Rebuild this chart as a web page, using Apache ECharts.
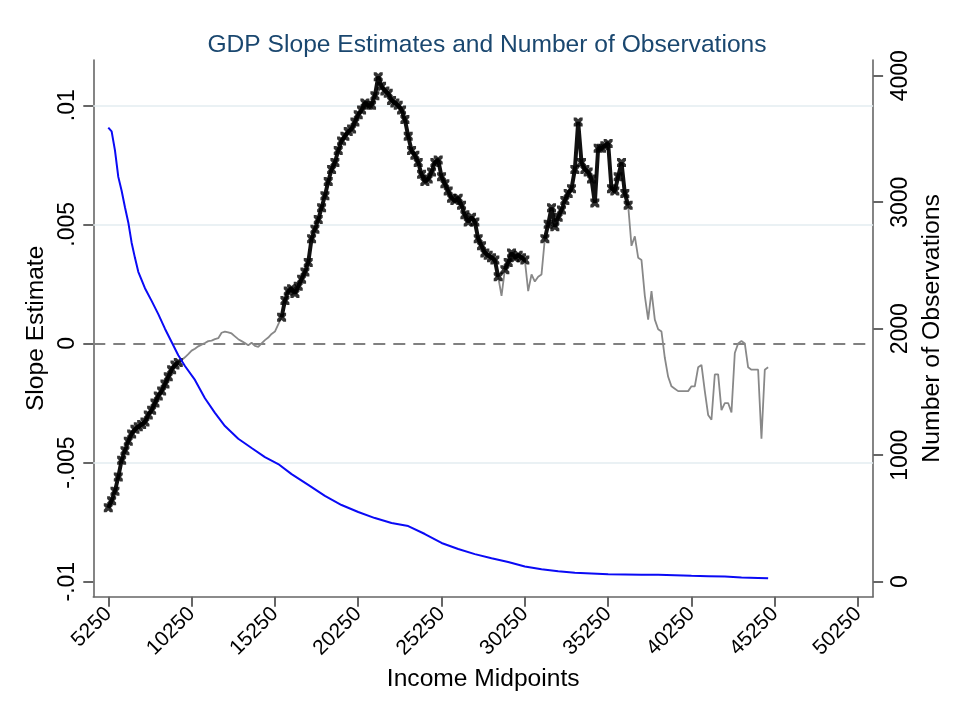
<!DOCTYPE html>
<html>
<head>
<meta charset="utf-8">
<title>GDP Slope Estimates and Number of Observations</title>
<script src="https://cdn.jsdelivr.net/npm/echarts@6/dist/echarts.min.js"></script>
<style>
  html, body { margin: 0; padding: 0; background: #ffffff; }
  #chart { width: 953px; height: 703px; }
</style>
</head>
<body>
<div id="chart"></div>
<script>
// Income midpoints run from 5250 in steps of 200
const incomeStart = 5250;
const incomeStep = 200;

// Slope estimate at each income midpoint
const slopeEstimates = [
  -0.0069, -0.0066, -0.0062, -0.0056, -0.0049, -0.0045, -0.0041, -0.0038, -0.0036, -0.0035,
  -0.0034, -0.0033, -0.0030, -0.0028, -0.0025, -0.0022, -0.0020, -0.0017, -0.0014, -0.0011,
  -0.0009, -0.0008, -0.0007, -0.00058, -0.00045, -0.0003, -0.00022, -0.00012, -0.00005, 0.00002,
  0.0001, 0.00012, 0.00018, 0.00022, 0.00045, 0.0005, 0.00047, 0.00042, 0.0003, 0.00018,
  0.0001, 0.00002, -0.00007, 0.00003, -0.0001, -0.00014, 0, 0.00014, 0.00025, 0.0004,
  0.0005, 0.0008, 0.0011, 0.0018, 0.0022, 0.0023, 0.0021, 0.0024, 0.0027, 0.0030,
  0.0034, 0.0044, 0.0048, 0.0052, 0.0057, 0.0062, 0.0068, 0.0073, 0.0076, 0.0081,
  0.0085, 0.0087, 0.0089, 0.0090, 0.0093, 0.0096, 0.0098, 0.0101, 0.0100, 0.0100,
  0.0104, 0.0112, 0.0108, 0.0106, 0.0105, 0.0102, 0.0101, 0.0100, 0.0098, 0.0094,
  0.0087, 0.0081, 0.0079, 0.0076, 0.0071, 0.0068, 0.0069, 0.0072, 0.0076, 0.0077,
  0.0070, 0.0067, 0.0064, 0.0061, 0.0060, 0.0061, 0.0058, 0.0054, 0.0051, 0.0053,
  0.0051, 0.0044, 0.0041, 0.0038, 0.0037, 0.0036, 0.0035, 0.0028, 0.0020, 0.0031,
  0.0034, 0.0038, 0.0036, 0.0037, 0.0036, 0.0035, 0.0022, 0.0029, 0.0026, 0.0028,
  0.0029, 0.0044, 0.0050, 0.0057, 0.0049, 0.0053, 0.0056, 0.0060, 0.0063, 0.0065,
  0.0073, 0.0093, 0.0076, 0.0073, 0.0072, 0.0069, 0.0059, 0.0082, 0.0082, 0.0083,
  0.0084, 0.0065, 0.0064, 0.0070, 0.0076, 0.0063, 0.0058, 0.0041, 0.0045, 0.0036,
  0.0035, 0.0020, 0.0010, 0.0022, 0.0010, 0.0006, 0.0005, -0.0006, -0.0014, -0.0018,
  -0.0019, -0.0020, -0.0020, -0.0020, -0.0020, -0.0018, -0.0018, -0.0010, -0.0009, -0.0020,
  -0.0030, -0.0032, -0.0013, -0.0013, -0.0028, -0.0025, -0.0025, -0.0029, -0.0004, 0.0000,
  0.0001, 0.0000, -0.0010, -0.0011, -0.0011, -0.0011, -0.0040, -0.0011, -0.0010
];

// Income ranges where the slope estimate is significant (marked with crosses)
const significantRanges = [
  [5250, 9450],
  [15650, 28650],
  [29050, 30250],
  [31450, 36450]
];

// Number of observations behind each estimate
const obsIncome = [
  5250, 5450, 5650, 5850, 6050, 6250, 6450, 6650, 6850, 7050,
  7450, 7850, 8250, 8650, 9050, 9450, 9850, 10450, 11050, 11650,
  12250, 13050, 13850, 14650, 15450, 16250, 17250, 18250, 19250, 20250,
  21250, 22250, 23250, 24250, 25250, 26250, 27250, 28250, 29250, 30250,
  31250, 32250, 33250, 34250, 35250, 36250, 37250, 38250, 39250, 40250,
  41250, 42250, 43250, 44250, 44850
];
const obsCount = [
  3590, 3560, 3410, 3200, 3090, 2960, 2840, 2680, 2560, 2450,
  2320, 2220, 2115, 2000, 1895, 1790, 1705, 1595, 1450, 1335,
  1230, 1130, 1057, 985, 930, 850, 765, 678, 606, 551,
  503, 464, 440, 377, 306, 258, 218, 185, 155, 120,
  98, 82, 71, 65, 59, 57, 55, 54, 51, 47,
  44, 41, 33, 30, 27
];

// Axis ticks and labels
const xTickValues = [5250, 10250, 15250, 20250, 25250, 30250, 35250, 40250, 45250, 50250];
const slopeTickValues = [-0.01, -0.005, 0, 0.005, 0.01];
const slopeTickLabels = ['-.01', '-.005', '0', '.005', '.01'];
const slopeGridValues = [-0.005, 0.005, 0.01];
const obsTickValues = [0, 1000, 2000, 3000, 4000];

// ---- build series data ----
const slopeData = slopeEstimates.map((v, i) => [incomeStart + i * incomeStep, v]);
const isSignificant = x => significantRanges.some(r => x >= r[0] && x <= r[1]);
const significantData = slopeData.filter(p => isSignificant(p[0]));
// same points, broken between the significant stretches
const significantTrace = slopeData.map(p => isSignificant(p[0]) ? p : [p[0], null]);
const obsData = obsIncome.map((x, i) => [x, obsCount[i]]);

const FONT = 'Liberation Sans, Arial, sans-serif';
const AXIS_COLOR = '#666666';
const crossPath = 'path://M0,0 L3,0 L5,2 L7,0 L10,0 L10,3 L8,5 L10,7 L10,10 L7,10 L5,8 L3,10 L0,10 L0,7 L2,5 L0,3 Z';
const plain = v => String(v);

const chart = echarts.init(document.getElementById('chart'), null, { renderer: 'canvas' });

chart.setOption({
  backgroundColor: '#ffffff',
  animation: false,
  title: {
    text: 'GDP Slope Estimates and Number of Observations',
    left: 482,
    top: 28,
    textAlign: 'center',
    textStyle: { color: '#1a476f', fontFamily: FONT, fontSize: 24.6, fontWeight: 'normal' }
  },
  grid: { left: 93.3, right: 72.3, top: 60, bottom: 106.3, containLabel: false },
  xAxis: {
    type: 'value',
    min: 4350,
    max: 51150,
    name: 'Income Midpoints',
    nameLocation: 'middle',
    nameGap: 66,
    nameTextStyle: { color: '#000', fontFamily: FONT, fontSize: 24.6 },
    axisLine: { show: true, onZero: false, lineStyle: { color: AXIS_COLOR, width: 1.6 } },
    axisTick: { show: true, customValues: xTickValues, length: 10, lineStyle: { color: AXIS_COLOR, width: 2 } },
    axisLabel: {
      customValues: xTickValues, rotate: 45, margin: 14, formatter: plain,
      color: '#000', fontFamily: FONT, fontSize: 21
    },
    splitLine: { show: false }
  },
  yAxis: [
    {
      type: 'value',
      position: 'left',
      min: -0.01063,
      max: 0.0119,
      name: 'Slope Estimate',
      nameLocation: 'middle',
      nameRotate: 90,
      nameGap: 38,
      nameTextStyle: { color: '#000', fontFamily: FONT, fontSize: 24.6 },
      axisLine: { show: true, onZero: false, lineStyle: { color: AXIS_COLOR, width: 1.6 } },
      axisTick: { show: true, customValues: slopeTickValues, length: 10, lineStyle: { color: AXIS_COLOR, width: 2 } },
      axisLabel: {
        customValues: slopeTickValues, rotate: 90, margin: 14,
        color: '#000', fontFamily: FONT, fontSize: 23,
        formatter: v => {
          const k = slopeTickValues.findIndex(t => Math.abs(t - v) < 1e-9);
          return k >= 0 ? slopeTickLabels[k] : '';
        }
      },
      splitLine: { show: false }
    },
    {
      type: 'value',
      position: 'right',
      min: -118.6,
      max: 4124,
      name: 'Number of Observations',
      nameLocation: 'middle',
      nameRotate: 90,
      nameGap: 42,
      nameTextStyle: { color: '#000', fontFamily: FONT, fontSize: 24.8 },
      axisLine: { show: true, onZero: false, lineStyle: { color: AXIS_COLOR, width: 1.6 } },
      axisTick: { show: true, customValues: obsTickValues, length: 10, lineStyle: { color: AXIS_COLOR, width: 2 } },
      axisLabel: {
        customValues: obsTickValues, rotate: 90, margin: 16, formatter: plain,
        color: '#000', fontFamily: FONT, fontSize: 23
      },
      splitLine: { show: false }
    }
  ],
  series: [
    {
      // reference lines: light grid and dashed zero line
      name: 'guides',
      type: 'line',
      data: slopeData,
      yAxisIndex: 0,
      showSymbol: false,
      silent: true,
      z: 1,
      lineStyle: { opacity: 0 },
      markLine: {
        silent: true,
        symbol: 'none',
        precision: 6,
        z: 1,
        label: { show: false },
        data: [
          ...slopeGridValues.map(v => ({ yAxis: v, lineStyle: { color: '#e3edf0', width: 1.5, type: 'solid' } })),
          { yAxis: 0, lineStyle: { color: '#808080', width: 2, type: [12, 8] } }
        ]
      }
    },
    {
      name: 'Slope Estimate',
      type: 'line',
      data: slopeData,
      yAxisIndex: 0,
      showSymbol: false,
      z: 2,
      lineStyle: { color: '#888888', width: 1.8 }
    },
    {
      name: 'Significant trace',
      type: 'line',
      data: significantTrace,
      yAxisIndex: 0,
      showSymbol: false,
      connectNulls: false,
      z: 3,
      lineStyle: { color: '#111111', width: 4 }
    },
    {
      name: 'Significant',
      type: 'scatter',
      data: significantData,
      yAxisIndex: 0,
      symbol: crossPath,
      symbolSize: 9,
      z: 3,
      itemStyle: { color: '#000000' }
    },
    {
      name: 'Number of Observations',
      type: 'line',
      data: obsData,
      yAxisIndex: 1,
      showSymbol: false,
      z: 4,
      lineStyle: { color: '#0a0af5', width: 2 }
    }
  ]
});
</script>
</body>
</html>
